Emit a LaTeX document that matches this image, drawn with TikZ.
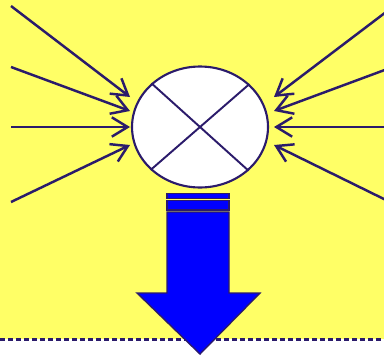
\documentclass[tikz,border=0pt]{standalone}
\usepackage{tikz}
\usetikzlibrary{shapes.geometric, arrows.meta}
\definecolor{pad}{HTML}{FFFF66}
\definecolor{ink}{HTML}{2B1B6B}
\tikzstyle{junction} = [ellipse, draw=ink, line width=1.2pt, fill=white, minimum width=2.72cm, minimum height=2.42cm, inner sep=0pt]
\tikzstyle{feed} = [draw=ink, line width=1.4pt, -{Straight Barb[length=9pt, width=11pt]}]
\tikzstyle{cross} = [draw=ink, line width=1.1pt]
\tikzstyle{outflow} = [draw=ink, line width=0.8pt, fill=blue]

\begin{document}
\begin{tikzpicture}[x=0.02cm, y=-0.02cm]

% Bounding box
\useasboundingbox (0,0) rectangle (384,355);
\fill [pad] (0,0) rectangle (384,339);
\draw [ink, line width=1.4pt, dash pattern=on 1mm off 0.6mm] (0,339.5) -- (384,339.5);

\node (sum) [junction] at (200,127) {};
\draw [cross] (sum.41.6) -- (sum.221.6);
\draw [cross] (sum.138.4) -- (sum.318.4);

% inputs from the left
\coordinate (l1) at (11,6);    \coordinate (lt1) at (130,97);
\coordinate (l2) at (11,67);   \coordinate (lt2) at (130,111);
\coordinate (l3) at (11,127);  \coordinate (lt3) at (130,127);
\coordinate (l4) at (11,202);  \coordinate (lt4) at (130,145);
% inputs from the right
\coordinate (r1) at (390,9);   \coordinate (rt1) at (274,97);
\coordinate (r2) at (390,68);  \coordinate (rt2) at (274,111);
\coordinate (r3) at (390,127); \coordinate (rt3) at (274,127);
\coordinate (r4) at (390,202); \coordinate (rt4) at (274,145);
\foreach \i in {1,...,4} {
  \draw [feed] (l\i) -- (lt\i);
  \draw [feed] (r\i) -- (rt\i);
}

% output
\draw [outflow] (167,193.5) rectangle (229,198.5);
\draw [outflow] (167,200.5) rectangle (229,210);
\draw [outflow] (167,212) -- (229,212) -- (229,293) -- (260,293) -- (200,354)
  -- (137,293) -- (167,293) -- cycle;

\end{tikzpicture}
\end{document}
